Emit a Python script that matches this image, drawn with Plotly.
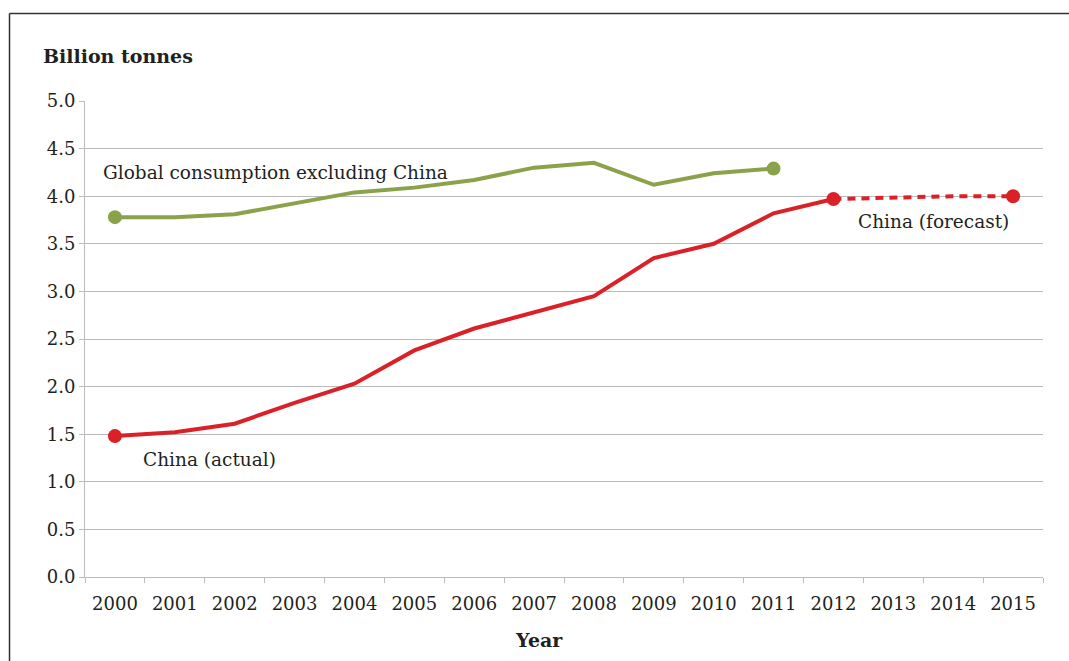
import plotly.graph_objects as go

years = [str(y) for y in range(2000, 2016)]
global_years = years[:12]
global_vals = [3.78, 3.78, 3.81, 3.93, 4.04, 4.09, 4.17, 4.30, 4.35, 4.12, 4.24, 4.29]
china_years = years[:13]
china_vals = [1.48, 1.52, 1.61, 1.83, 2.03, 2.38, 2.61, 2.78, 2.95, 3.35, 3.50, 3.82, 3.97]
fc_years = years[12:]
fc_vals = [3.97, 3.99, 4.00, 4.00]
y_ticks = [0, 0.5, 1, 1.5, 2, 2.5, 3, 3.5, 4, 4.5, 5]

GREEN = "#8BA24A"
RED = "#DA2128"
TXT = "#231F20"
GRID = "#BBBBBB"
FONT = "DejaVu Serif"

W, H = 1069, 661
L, R, T, B = 85, 1043, 101, 577


def px(x):
    return (x - L) / (R - L)


def py(y):
    return (B - y) / (B - T)


fig = go.Figure()
fig.add_trace(go.Scatter(x=global_years, y=global_vals, mode="lines",
                         line=dict(color=GREEN, width=4), hoverinfo="skip"))
fig.add_trace(go.Scatter(x=[global_years[0], global_years[-1]], y=[global_vals[0], global_vals[-1]],
                         mode="markers", marker=dict(color=GREEN, size=14)))
fig.add_trace(go.Scatter(x=fc_years, y=fc_vals, mode="lines",
                         line=dict(color=RED, width=4, dash="8px,6px")))
fig.add_trace(go.Scatter(x=china_years, y=china_vals, mode="lines",
                         line=dict(color=RED, width=4)))
fig.add_trace(go.Scatter(x=[china_years[0], fc_years[0], fc_years[-1]],
                         y=[china_vals[0], fc_vals[0], fc_vals[-1]],
                         mode="markers", marker=dict(color=RED, size=14)))

fig.update_layout(
    width=W, height=H,
    margin=dict(l=L, r=W - R, t=T, b=H - B),
    paper_bgcolor="white", plot_bgcolor="white",
    showlegend=False,
    font=dict(family=FONT, size=18, color=TXT),
    xaxis=dict(type="category", categoryorder="array", categoryarray=years,
               range=[-0.5, 15.5], showgrid=False, showline=True, linecolor=GRID,
               linewidth=1, ticks="outside", tickson="boundaries", ticklen=5,
               tickcolor=GRID, tickfont=dict(family=FONT, size=18, color=TXT),
               ticklabelstandoff=10,
               zeroline=False, fixedrange=True),
    yaxis=dict(range=[0, 5], tickvals=y_ticks, ticktext=[f"{v:.1f}" for v in y_ticks],
               showgrid=True, gridcolor=GRID, gridwidth=1, showline=True,
               linecolor=GRID, linewidth=1, ticks="outside", ticklen=5, tickcolor=GRID,
               tickfont=dict(family=FONT, size=18, color=TXT), zeroline=False,
               fixedrange=True),
)

ann = [
    dict(text="<b>Billion tonnes</b>", x=px(41), y=py(56), xanchor="left", yanchor="middle",
         font=dict(size=19)),
    dict(text="<b>Year</b>", x=px(539), y=py(640), xanchor="center", yanchor="middle",
         font=dict(size=19)),
    dict(text="Global consumption excluding China", x=px(101), y=py(172), xanchor="left",
         yanchor="middle", font=dict(size=18.5)),
    dict(text="China (actual)", x=px(141), y=py(459), xanchor="left", yanchor="middle",
         font=dict(size=18.5)),
    dict(text="China (forecast)", x=px(856), y=py(221), xanchor="left", yanchor="middle",
         font=dict(size=18.5)),
]
for a in ann:
    a.update(xref="paper", yref="paper", showarrow=False)
fig.update_layout(annotations=ann)

fig.update_layout(shapes=[
    dict(type="line", xref="paper", yref="paper", x0=px(9.5), x1=px(W + 5), y0=py(13.5), y1=py(13.5),
         line=dict(color="#333333", width=1.5)),
    dict(type="line", xref="paper", yref="paper", x0=px(9.5), x1=px(9.5), y0=py(13.5), y1=py(H + 5),
         line=dict(color="#333333", width=1.5)),
])

fig.write_html("out.html")
